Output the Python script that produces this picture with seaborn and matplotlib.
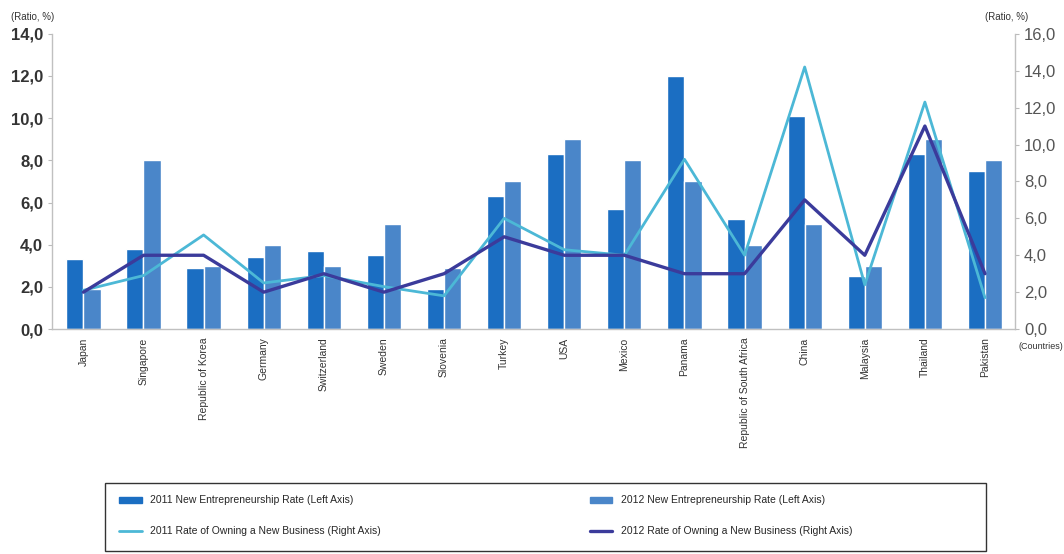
import numpy as np
import pandas as pd
import matplotlib
matplotlib.use("Agg")
import matplotlib.pyplot as plt
import seaborn as sns
from matplotlib.ticker import FuncFormatter, FixedLocator, NullFormatter
from matplotlib.patches import Patch, Rectangle
from matplotlib.lines import Line2D

# Data
countries = ["Japan", "Singapore", "Republic of Korea", "Germany", "Switzerland",
             "Sweden", "Slovenia", "Turkey", "USA", "Mexico", "Panama",
             "Republic of South Africa", "China", "Malaysia", "Thailand", "Pakistan"]
entre_2011 = [3.3, 3.8, 2.9, 3.4, 3.7, 3.5, 1.9, 6.3, 8.3, 5.7, 12.0, 5.2, 10.1, 2.5, 8.3, 7.5]
entre_2012 = [1.9, 8.0, 3.0, 4.0, 3.0, 5.0, 2.9, 7.0, 9.0, 8.0, 7.0, 4.0, 5.0, 3.0, 9.0, 8.0]
own_2011 = [2.1, 2.9, 5.1, 2.5, 2.9, 2.3, 1.8, 6.0, 4.3, 4.0, 9.2, 4.0, 14.2, 2.4, 12.3, 1.7]
own_2012 = [2.0, 4.0, 4.0, 2.0, 3.0, 2.0, 3.0, 5.0, 4.0, 4.0, 3.0, 3.0, 7.0, 4.0, 11.0, 3.0]

bar_labels = ["2011 New Entrepreneurship Rate (Left Axis)",
              "2012 New Entrepreneurship Rate (Left Axis)"]
line_labels = ["2011 Rate of Owning a New Business (Right Axis)",
               "2012 Rate of Owning a New Business (Right Axis)"]

bar_colors = ["#1b6ec2", "#4a86c9"]
line_colors = ["#4cb8d6", "#3b3b9b"]

sns.set_style("white")
plt.rcParams["font.family"] = ["Liberation Sans", "DejaVu Sans"]

bars = pd.DataFrame({
    "Country": countries * 2,
    "Rate": entre_2011 + entre_2012,
    "Series": [bar_labels[0]] * len(countries) + [bar_labels[1]] * len(countries),
})

fig = plt.figure(figsize=(10.64, 5.54), dpi=100)
ax = fig.add_axes([0.049, 0.406, 0.905, 0.533])

sns.barplot(data=bars, x="Country", y="Rate", hue="Series", order=countries,
            hue_order=bar_labels, palette=bar_colors, width=0.57, gap=0,
            saturation=1, ax=ax, legend=False)

ax2 = ax.twinx()
xpos = np.arange(len(countries))
sns.lineplot(x=xpos, y=own_2011, color=line_colors[0], lw=2, ax=ax2, sort=False)
sns.lineplot(x=xpos, y=own_2012, color=line_colors[1], lw=2.4, ax=ax2, sort=False)

ax.set_xlim(-0.52, len(countries) - 0.5)
ax.set_ylim(0, 14)
ax2.set_ylim(0, 16)
ax.set_yticks(np.arange(0, 14.1, 2))
ax2.set_yticks(np.arange(0, 16.1, 2))

comma = FuncFormatter(lambda v, p: f"{v:.1f}".replace(".", ","))
ax.yaxis.set_major_formatter(comma)
ax2.yaxis.set_major_formatter(comma)

ax.set_xlabel("")
ax.set_ylabel("")
ax2.set_ylabel("")
ax.set_xticks(xpos)
ax.set_xticklabels(countries, rotation=90, fontsize=7.5, color="#333333")
ax.xaxis.set_minor_locator(FixedLocator(np.arange(-0.5, len(countries), 1)))
ax.xaxis.set_minor_formatter(NullFormatter())
ax.tick_params(axis="x", which="major", length=0, pad=6)
ax.tick_params(axis="x", which="minor", length=4, color="#bbbbbb", direction="out")
ax.tick_params(axis="y", labelsize=12, length=3, color="#bbbbbb", labelcolor="#333333")
for t in ax.get_yticklabels():
    t.set_fontweight("bold")
ax2.tick_params(axis="y", labelsize=12, length=3, color="#bbbbbb", labelcolor="#555555")

for a in (ax, ax2):
    a.spines["top"].set_visible(False)
    for s in ("left", "right", "bottom"):
        a.spines[s].set_color("#c0c0c0")
        a.spines[s].set_linewidth(1)
ax.spines["right"].set_visible(False)
ax2.spines["left"].set_visible(False)
ax2.spines["bottom"].set_visible(False)

fig.text(0.010, 0.970, "(Ratio, %)", fontsize=7, color="#333333", va="center")
fig.text(0.926, 0.970, "(Ratio, %)", fontsize=7, color="#333333", va="center")
fig.text(0.957, 0.375, "(Countries)", fontsize=6.5, color="#333333", va="center")

# Legend: frameless legend inside a drawn box
handles = [Patch(color=bar_colors[0]), Patch(color=bar_colors[1]),
           Line2D([], [], color=line_colors[0], lw=2), Line2D([], [], color=line_colors[1], lw=2.4)]
labels = [bar_labels[0], bar_labels[1], line_labels[0], line_labels[1]]
order = [0, 2, 1, 3]
fig.legend([handles[i] for i in order], [labels[i] for i in order],
           ncol=2, loc="upper left", bbox_to_anchor=(0.112, 0.106),
           frameon=False, fontsize=7.5, handlelength=2.2, handleheight=0.5,
           borderaxespad=0, borderpad=0, labelspacing=2.0, handletextpad=0.8,
           columnspacing=20.0)
fig.add_artist(Rectangle((0.099, 0.006), 0.828, 0.122, transform=fig.transFigure,
                         fill=False, edgecolor="#333333", lw=1))

fig.savefig("out.png", dpi=100)
